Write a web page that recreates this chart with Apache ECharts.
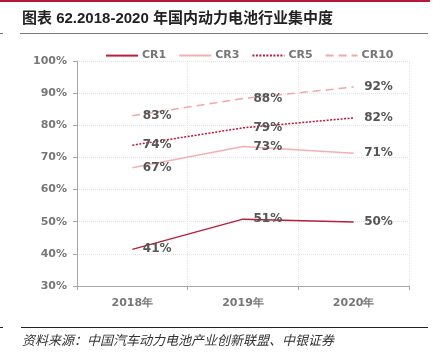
<!DOCTYPE html>
<html>
<head>
<meta charset="utf-8">
<script src="https://cdn.jsdelivr.net/npm/echarts@6/dist/echarts.min.js"></script>
<style>
  html, body { margin: 0; padding: 0; background: #fff; }
  #main { width: 440px; height: 354px; }
</style>
</head>
<body>
<div id="main"></div>
<script type="text/javascript">
    // 2018-2020 domestic power battery concentration (%)
    var years = ['2018年', '2019年', '2020年'];
    var cr1 = [41.4, 50.8, 49.9];
    var cr3 = [66.8, 73.4, 71.3];
    var cr5 = [73.8, 79.2, 82.3];
    var cr10 = [83.0, 88.3, 91.9];

    var tickFont = 'DejaVu Sans, Verdana, sans-serif';
    var gray = '#777';

    function makeSeries(name, data, color, type, width) {
        return {
            name: name,
            type: 'line',
            data: data,
            symbol: 'circle',
            symbolSize: 1,
            lineStyle: { color: color, width: width, type: type },
            itemStyle: { color: color, opacity: 0 },
            label: {
                show: true,
                position: 'right',
                distance: 10,
                formatter: function (p) { return Math.round(p.value) + '%'; },
                color: '#555',
                opacity: 1,
                fontFamily: tickFont,
                fontWeight: 'bold',
                fontSize: 12
            }
        };
    }

    var myChart = echarts.init(document.getElementById('main'));
    var option = {
        animation: false,
        grid: { left: 77, right: 31, top: 61, bottom: 68 },
        legend: {
            left: 105,
            top: 50,
            padding: 0,
            itemWidth: 32,
            itemHeight: 14,
            itemGap: 12,
            itemStyle: { opacity: 0 },
            textStyle: { color: gray, fontFamily: tickFont, fontWeight: 'bold', fontSize: 11, padding: [0, 0, 0, -1] },
            data: ['CR1', 'CR3', 'CR5', 'CR10']
        },
        xAxis: {
            type: 'category',
            data: years,
            axisLine: { lineStyle: { color: '#a6a6a6' } },
            axisTick: { show: true, length: 4, lineStyle: { color: '#a6a6a6' } },
            axisLabel: { color: gray, fontFamily: tickFont, fontWeight: 'bold', fontSize: 11, margin: 12 },
            splitLine: { show: true, lineStyle: { color: '#e3e3e3', type: 'dotted' } }
        },
        yAxis: {
            type: 'value',
            min: 30,
            max: 100,
            interval: 10,
            axisLine: { show: true, lineStyle: { color: '#a6a6a6' } },
            axisTick: { show: true, length: 4, lineStyle: { color: '#a6a6a6' } },
            axisLabel: { formatter: '{value}%', color: gray, fontFamily: tickFont, fontWeight: 'bold', fontSize: 11, margin: 10 },
            splitLine: { show: true, lineStyle: { color: '#e3e3e3', type: 'dotted' } }
        },
        series: [
            makeSeries('CR1', cr1, '#b81f3c', 'solid', 1.5),
            makeSeries('CR3', cr3, '#f2b0b0', 'solid', 1.5),
            makeSeries('CR5', cr5, '#b8163a', [2, 1.5], 1.5),
            makeSeries('CR10', cr10, '#f0a8a8', [8, 5], 1.5)
        ],
        graphic: [
            { type: 'rect', shape: { x: 0, y: 0, width: 430, height: 2 }, style: { fill: '#b8163a' } },
            {
                type: 'text', left: 22, top: 11,
                style: {
                    text: '图表 62.2018-2020 年国内动力电池行业集中度',
                    font: 'bold 15px "Liberation Sans", "Noto Sans CJK SC", sans-serif',
                    fill: '#222'
                }
            },
            { type: 'rect', shape: { x: 20, y: 33, width: 408, height: 1 }, style: { fill: '#7a7a7a' } },
            { type: 'rect', shape: { x: 0, y: 33, width: 3, height: 1 }, style: { fill: '#7a7a7a' } },
            { type: 'rect', shape: { x: 21, y: 327, width: 407, height: 1 }, style: { fill: '#222' } },
            { type: 'rect', shape: { x: 0, y: 327, width: 3, height: 1 }, style: { fill: '#222' } },
            {
                type: 'text', left: 22, top: 334,
                style: {
                    text: '资料来源：中国汽车动力电池产业创新联盟、中银证券',
                    font: 'italic 13px "Noto Sans CJK SC", sans-serif',
                    fill: '#333'
                }
            }
        ]
    };
    myChart.setOption(option);
</script>
</body>
</html>
